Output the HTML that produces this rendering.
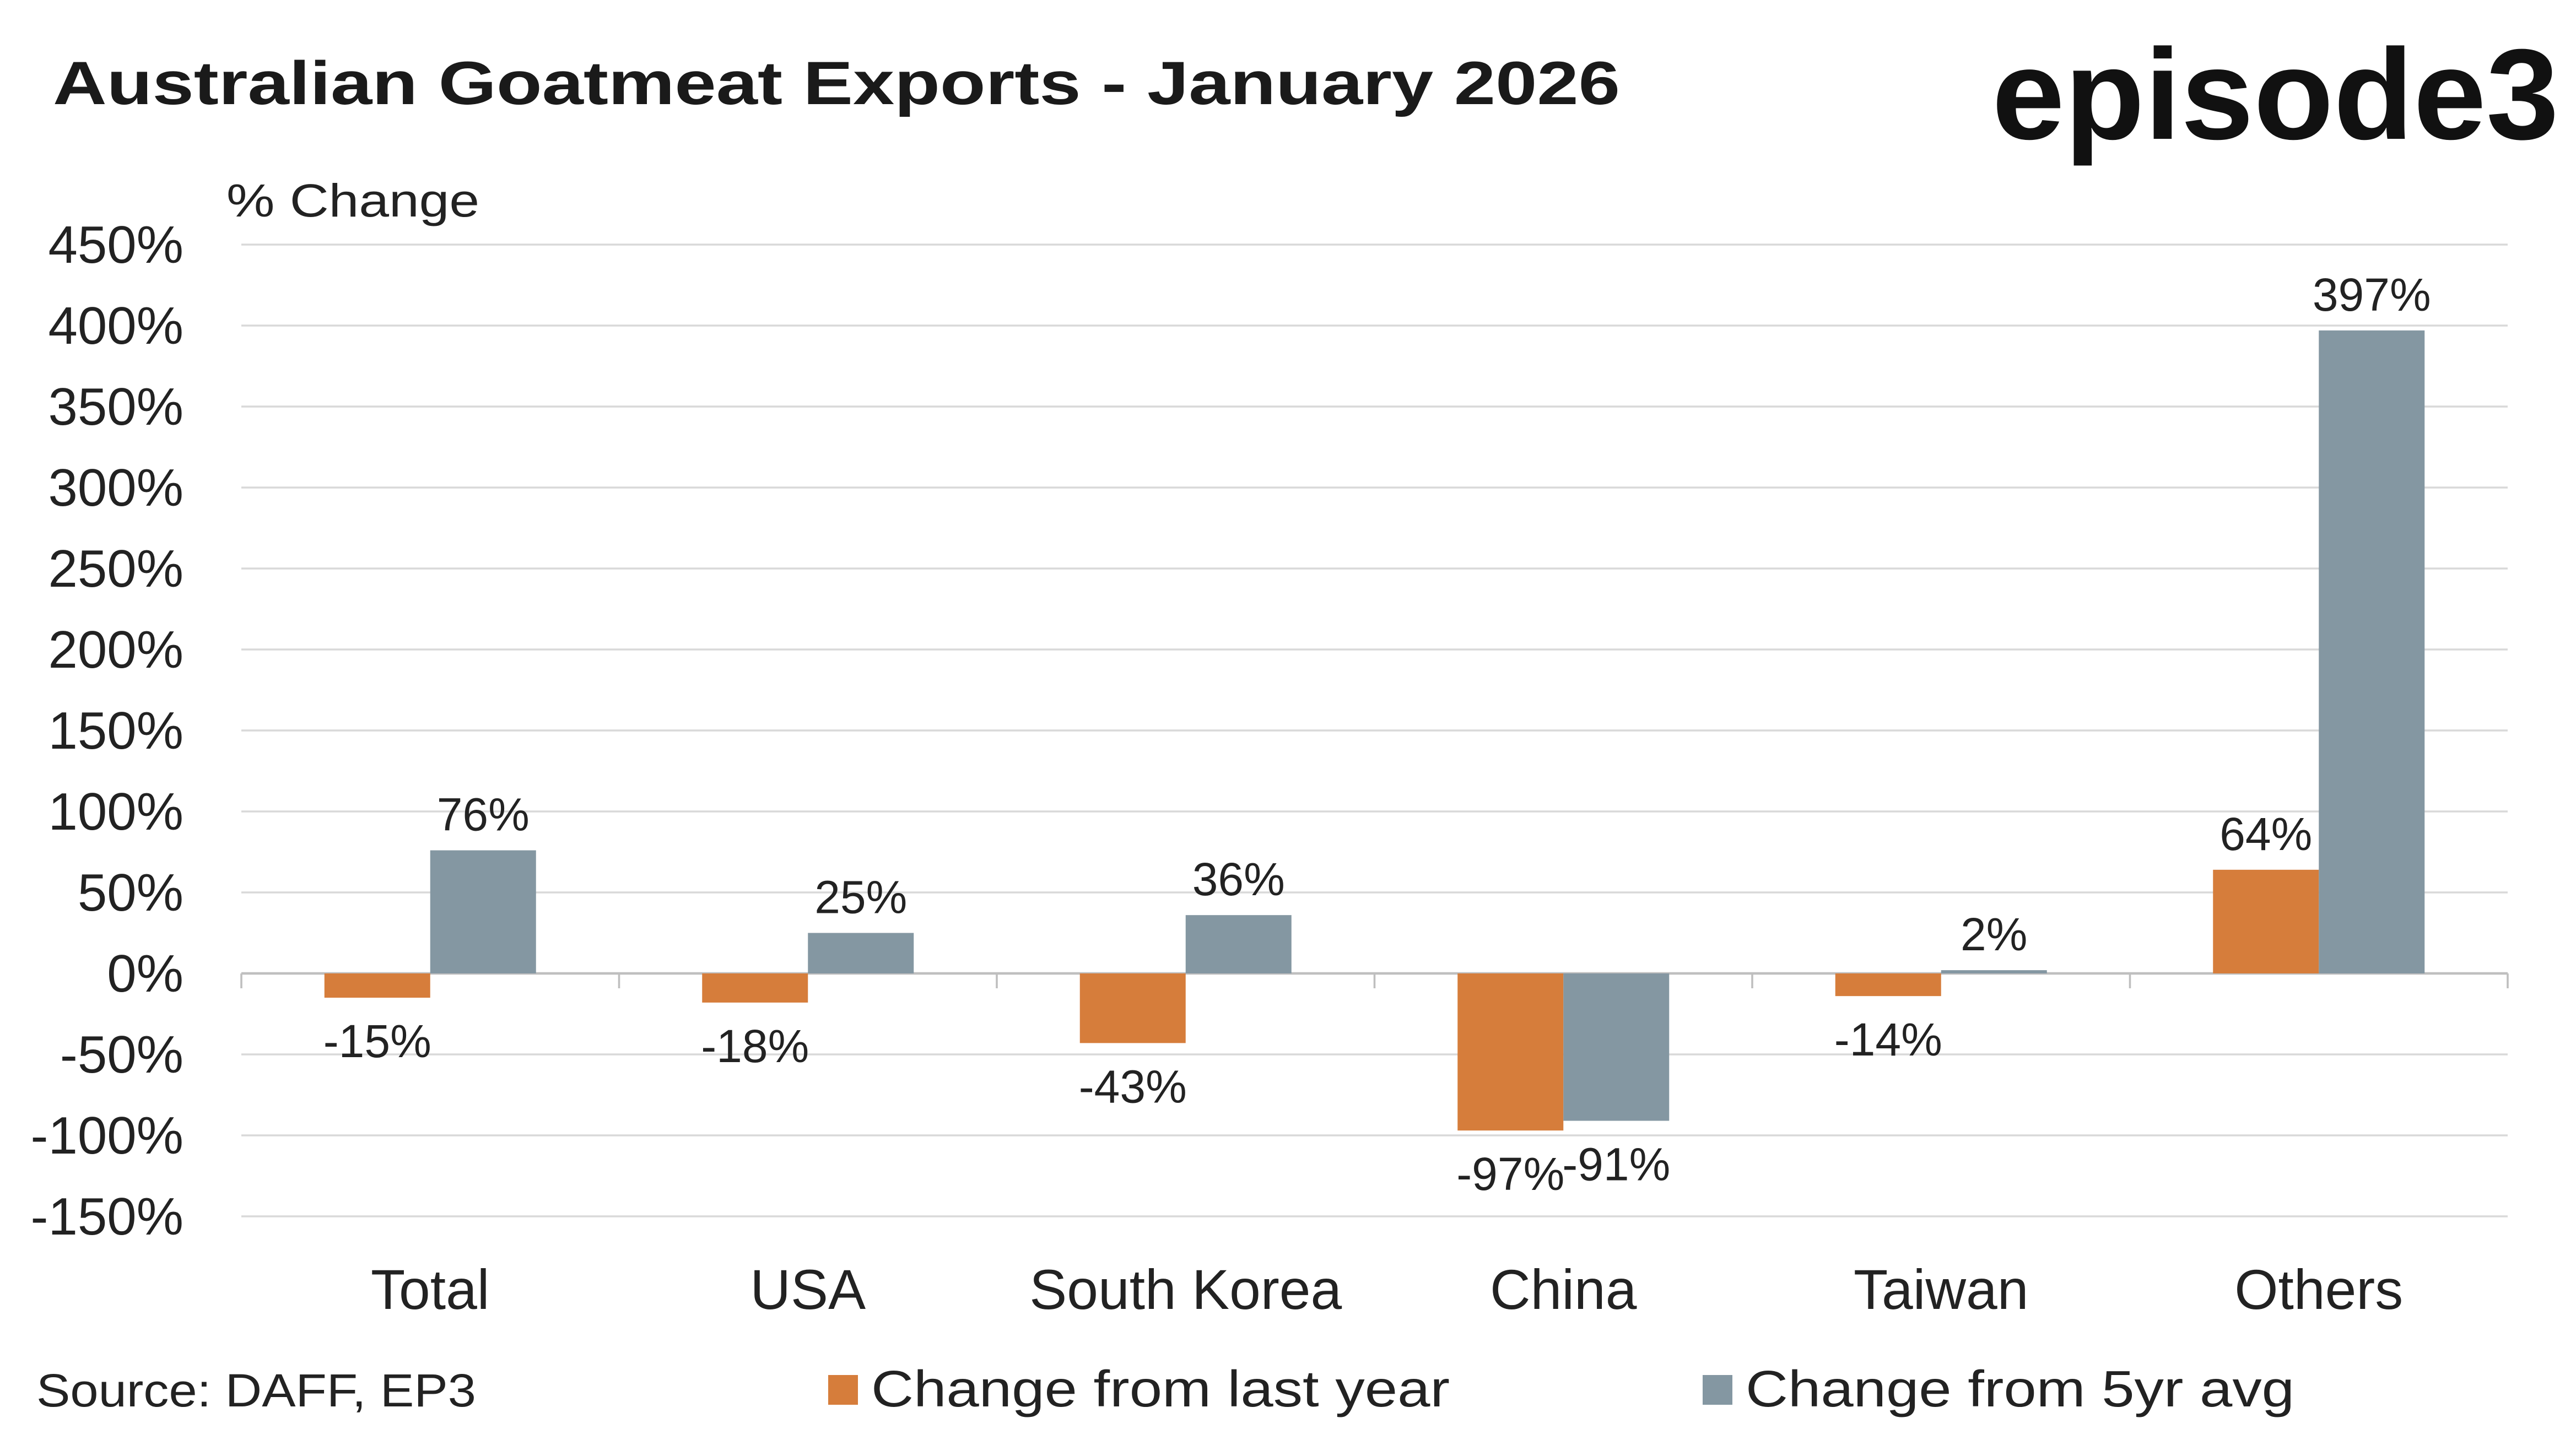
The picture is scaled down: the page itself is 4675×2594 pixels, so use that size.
<!DOCTYPE html>
<html><head><meta charset="utf-8"><style>html,body{margin:0;padding:0;background:#fff}svg{display:block}</style></head>
<body>
<svg id="chart" width="4675" height="2594" viewBox="0 0 1558.33 864.67" xmlns="http://www.w3.org/2000/svg" font-family="'Liberation Sans', sans-serif">
<text x="32" y="63" font-size="37" font-weight="bold" fill="#1a1a1a" textLength="948" lengthAdjust="spacingAndGlyphs">Australian Goatmeat Exports - January 2026</text>
<text x="1205" y="84" font-size="78" font-weight="bold" fill="#111" textLength="343" lengthAdjust="spacingAndGlyphs">episode3</text>
<text x="137" y="131" font-size="28" fill="#222" textLength="153" lengthAdjust="spacingAndGlyphs">% Change</text>
<g id="grid"></g><g id="bars"></g><g id="labels"></g>
<text x="22" y="851" font-size="28" fill="#222" textLength="266" lengthAdjust="spacingAndGlyphs">Source: DAFF, EP3</text>
<rect x="501" y="832" width="18" height="18" fill="#D67D3B"/>
<text x="527" y="851" font-size="31" fill="#222" textLength="350" lengthAdjust="spacingAndGlyphs">Change from last year</text>
<rect x="1030" y="832" width="18" height="18" fill="#8497A2"/>
<text x="1056" y="851" font-size="31" fill="#222" textLength="332" lengthAdjust="spacingAndGlyphs">Change from 5yr avg</text>
</svg>
<script>
const categories = ["Total","USA","South Korea","China","Taiwan","Others"];
const lastYear = [-15,-18,-43,-97,-14,64];
const fiveYrAvg = [76,25,36,-91,2,397];
const yTicks = [450,400,350,300,250,200,150,100,50,0,-50,-100,-150];
const NS="http://www.w3.org/2000/svg";
const x0=146,x1=1517,yTop=148,yBot=736,vMax=450,vMin=-150;
function y(v){return yTop+(vMax-v)*(yBot-yTop)/(vMax-vMin);}
const band=(x1-x0)/categories.length;
function cx(i){return x0+band*(i+0.5);}
function mk(tag,attrs,parent,text){const e=document.createElementNS(NS,tag);for(const k in attrs)e.setAttribute(k,attrs[k]);if(text!==undefined)e.textContent=text;document.getElementById(parent).appendChild(e);return e;}
yTicks.forEach(t=>{
  const l=mk('line',{x1:x0,x2:x1,y1:y(t),y2:y(t),stroke:t===0?'#bfbfbf':'#d9d9d9','stroke-width':t===0?1.5:1.2},'grid');
  
  
  const tx=mk('text',{x:111,y:y(t)+11,'font-size':32,'text-anchor':'end',fill:'#222'},'grid',t+'%');
  
  
});
for(let i=0;i<=categories.length;i++){
  const tk=mk('line',{x1:x0+band*i,x2:x0+band*i,y1:y(0),y2:y(0)+9,stroke:'#bfbfbf','stroke-width':1.2},'grid');
  
  
}
const bw=64;
categories.forEach((c,i)=>{
  const cl=mk('text',{x:cx(i),y:792,'font-size':34,'text-anchor':'middle',fill:'#222'},'labels',c);
  
  
  [[lastYear[i],'#D67D3B',cx(i)-bw,'last-year'],[fiveYrAvg[i],'#8497A2',cx(i),'5yr-avg']].forEach(([v,col,bx,s])=>{
    const top=Math.min(y(v),y(0)),h=Math.abs(y(v)-y(0));
    const r=mk('rect',{x:bx,y:top,width:bw,height:Math.max(h,1),fill:col},'bars');
    
    
    const ly=v>=0?y(v)-12:y(v)+36;
    const t=mk('text',{x:bx+bw/2,y:ly,'font-size':28,'text-anchor':'middle',fill:'#222'},'labels',v+'%');
    
    
  });
});
</script>
</body></html>
